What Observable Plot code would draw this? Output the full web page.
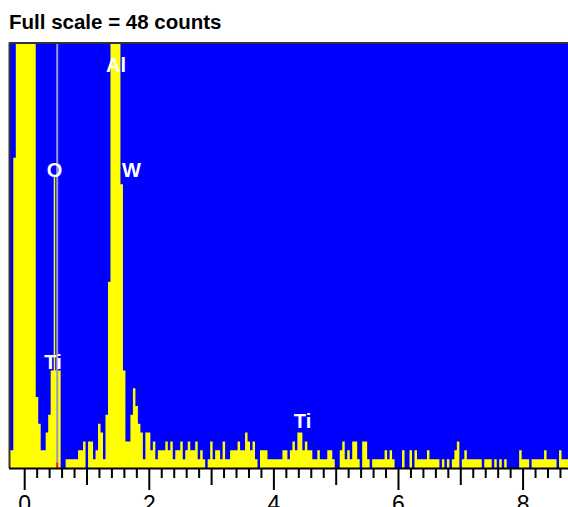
<!DOCTYPE html>
<html>
<head>
<meta charset="utf-8">
<script src="https://cdn.jsdelivr.net/npm/d3@7"></script>
<script src="https://cdn.jsdelivr.net/npm/@observablehq/plot@0.6"></script>
<style>
  html, body { margin: 0; padding: 0; background: #fff; overflow: hidden; }
  #wrap { position: relative; width: 568px; height: 507px; }
  #title { position: absolute; left: 9px; top: 12px; font: bold 20.5px/1 "Liberation Sans", Arial, Helvetica, sans-serif; color: #000; white-space: nowrap; }
  #chart { position: absolute; left: 0; top: 0; }
</style>
</head>
<body>
<div id="wrap">
  <div id="chart"></div>
  <div id="title">Full scale = 48 counts</div>
</div>
<script>
// Spectrum: counts per 0.04 keV channel, first channel starts at -0.255 keV
const channelStart = -0.255;
const channelWidth = 0.04;
const counts = [
  2, 2, 35, 95, 160, 210, 240, 230, 190, 130, 75, 8, 5, 2, 2, 4, 6, 11, 11, 11,
  11, 0, 0, 1, 1, 1, 1, 1, 2, 2, 3, 0, 3, 3, 1, 2, 5, 4, 1, 6,
  21, 70, 110, 105, 65, 32, 11, 3, 3, 6, 9, 7, 5, 4, 1, 4, 4, 2, 3, 1,
  2, 2, 2, 3, 2, 3, 1, 2, 2, 3, 1, 2, 3, 2, 2, 3, 1, 2, 1, 0,
  1, 3, 1, 2, 2, 1, 3, 1, 1, 2, 2, 2, 3, 2, 2, 4, 3, 2, 3, 1,
  0, 2, 2, 2, 1, 1, 1, 1, 1, 1, 2, 2, 1, 2, 3, 2, 4, 4, 2, 3,
  2, 2, 1, 1, 2, 1, 1, 1, 2, 2, 1, 0, 0, 2, 3, 1, 2, 1, 3, 3,
  1, 0, 3, 3, 1, 0, 1, 1, 1, 1, 1, 2, 1, 2, 1, 0, 0, 0, 2, 0,
  0, 2, 0, 2, 1, 1, 1, 1, 2, 1, 1, 1, 1, 0, 1, 0, 1, 0, 1, 2,
  3, 0, 1, 2, 1, 1, 1, 1, 1, 1, 0, 1, 1, 1, 0, 1, 0, 1, 0, 1,
  0, 0, 0, 0, 0, 2, 1, 1, 1, 0, 1, 1, 1, 1, 1, 2, 1, 1, 1, 1,
  0, 2, 1, 1, 1
];

// O Ka marker line (yellow) and O position line (grey)
const oLineEnergy = 0.478;
const oLineCount = 32.9;
const oMarkerEnergy = 0.522;
const oMarkerRed = 0.6;

// Element labels
const labelText = ["Al", "W", "O", "Ti", "Ti"];
const labelEnergy = [1.465, 1.714, 0.478, 0.454, 4.459];
const labelCount = [44.7, 32.9, 32.9, 11.2, 4.6];

// Axis ticks (keV)
const majorTicks = [0, 2, 4, 6, 8];
const midTicks = [1, 3, 5, 7];
const minorTicks = d3.range(1, 44).map(k => +(k * 0.2).toFixed(1)).filter(v => Math.abs(v - Math.round(v)) > 1e-6);

const fullScale = 48;
const xDomain = [-0.244, 8.729];

const spectrum = counts.map((c, i) => ({E: channelStart + i * channelWidth, c}));
spectrum.push({E: channelStart + counts.length * channelWidth, c: counts[counts.length - 1]});

const labels = labelText.map((t, i) => ({t, E: labelEnergy[i], c: labelCount[i]}));

const font = '"Liberation Sans", Arial, Helvetica, sans-serif';

const chart = Plot.plot({
  width: 568,
  height: 507,
  marginLeft: 9,
  marginRight: 0,
  marginTop: 42.5,
  marginBottom: 39,
  style: {fontFamily: font, fontSize: "23px", background: "transparent", overflow: "visible"},
  x: {domain: xDomain, axis: null},
  y: {domain: [0, fullScale], axis: null},
  marks: [
    Plot.frame({fill: "#0000ff", stroke: null}),
    Plot.areaY(spectrum, {x: "E", y: "c", curve: "step-after", fill: "#ffff00", clip: true}),
    Plot.ruleX([oLineEnergy], {y1: 0, y2: oLineCount, stroke: "#ffff00", strokeWidth: 1.5}),
    Plot.ruleX([oMarkerEnergy], {y1: 0, y2: fullScale, stroke: "#9a9ad2", strokeWidth: 2}),
    Plot.ruleX([oMarkerEnergy], {y1: 0, y2: oMarkerRed, stroke: "#ff2000", strokeWidth: 2}),
    Plot.text(labels, {x: "E", y: "c", text: "t", fill: "#ffffff", fontSize: 20, fontWeight: "bold", fontFamily: font, textAnchor: "middle", lineAnchor: "bottom"}),
    Plot.ruleY([fullScale], {stroke: "#333333", strokeWidth: 2}),
    Plot.ruleX([xDomain[0]], {y1: 0, y2: fullScale, stroke: "#333333", strokeWidth: 2}),
    Plot.ruleY([0], {stroke: "#000000", strokeWidth: 2}),
    Plot.axisX(minorTicks, {anchor: "bottom", tickSize: 10, tickFormat: () => "", strokeWidth: 2, stroke: "#000", label: null}),
    Plot.axisX(midTicks, {anchor: "bottom", tickSize: 17, tickFormat: () => "", strokeWidth: 2, stroke: "#000", label: null}),
    Plot.axisX(majorTicks, {anchor: "bottom", tickSize: 22, tickPadding: 5, tickFormat: d => String(d), strokeWidth: 2, stroke: "#000", fill: "#000", fontSize: 23, label: null})
  ]
});
document.getElementById("chart").appendChild(chart);
</script>
</body>
</html>
